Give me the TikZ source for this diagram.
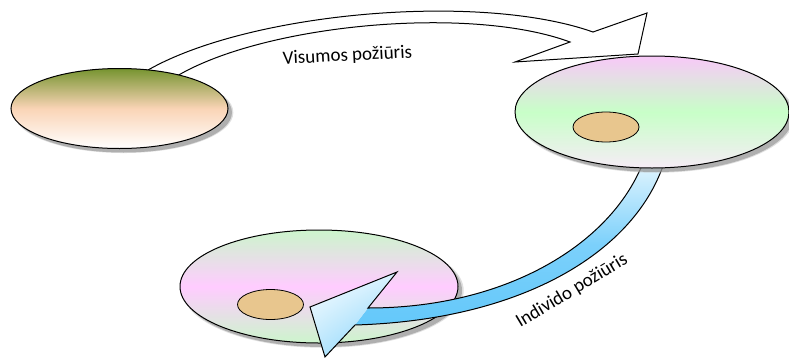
\documentclass[tikz,border=0pt]{standalone}
\usepackage{fontspec}
\setmainfont{Carlito}
\usetikzlibrary{shapes.geometric,shadows,shadings}
\definecolor{olive1}{RGB}{118,148,48}
\definecolor{peach}{RGB}{250,212,182}
\definecolor{pink1}{RGB}{248,200,248}
\definecolor{mint}{RGB}{200,255,200}
\definecolor{pinkw}{RGB}{246,236,246}
\definecolor{pink2}{RGB}{255,204,255}
\definecolor{mint2}{RGB}{204,245,204}
\definecolor{tan1}{RGB}{232,198,142}
\definecolor{arrowblue}{RGB}{100,200,250}
\tikzset{
  disc/.style={ellipse, draw=black, line width=1pt, inner sep=0pt,
    drop shadow={shadow xshift=4pt, shadow yshift=-4pt, shadow scale=1.012, fill=black!25},
    drop shadow={shadow xshift=4pt, shadow yshift=-4pt, fill=black!50}},
  spot/.style={ellipse, draw=black, line width=0.8pt, fill=tan1, inner sep=0pt,
    minimum width=66pt, minimum height=30pt},
  lbl/.style={font=\fontsize{19}{22}\selectfont, inner sep=0pt},
  arrowline/.style={draw=black, line width=1pt, line join=miter},
}
\begin{document}
\begin{tikzpicture}[x=1pt,y=-1pt]
\useasboundingbox (0,0) rectangle (789,359);
% bottom-left disc
\node[disc, minimum width=278pt, minimum height=113pt,
  top color=mint2, bottom color=mint2, middle color=pink2] (e3) at (319,286.5) {};
\node[spot] (s3) at (270.5,304.5) {};
% top white arrow
\draw[arrowline, fill=white]
  (148,82) -- (148,70) .. controls (250,12) and (480,-8) .. (593,32)
  -- (647,13) -- (638,54) -- (515,62) -- (570,42)
  .. controls (470,5) and (265,24) .. (177,76) -- (177,82) -- cycle;
% blue arrow: shaft fill
\shade[top color=arrowblue!20!white, bottom color=arrowblue, middle color=arrowblue!85!white]
  (643,164) -- (637,176) .. controls (600,250) and (500,308) .. (368,308)
  -- (355,325) .. controls (520,320) and (625,255) .. (659,176) -- (664,164) -- cycle;
% blue arrow: head fill
\shade[upper left=white, upper right=arrowblue!25!white,
  lower left=arrowblue!45!white, lower right=arrowblue!90!white]
  (368,308) -- (397,272) -- (310,307) -- (325,357) -- (355,325) -- cycle;
% blue arrow outline
\draw[arrowline]
  (643,164) -- (637,176) .. controls (600,250) and (500,308) .. (368,308)
  -- (397,272) -- (310,307) -- (325,357) -- (355,325)
  .. controls (520,320) and (625,255) .. (659,176) -- (664,164);
% left disc
\node[disc, minimum width=217pt, minimum height=80pt,
  top color=olive1, bottom color=white, middle color=peach] (e1) at (119.5,108.5) {};
% right disc
\node[disc, minimum width=274pt, minimum height=112pt,
  top color=pink1, bottom color=pinkw, middle color=mint] (e2) at (652,112) {};
\node[spot] (s2) at (606,127) {};
% labels
\node[lbl, rotate=3] (t1) at (347.5,56) {Visumos požiūris};
\node[lbl, rotate=31] (t2) at (572,291) {Individo požiūris};
\end{tikzpicture}
\end{document}
